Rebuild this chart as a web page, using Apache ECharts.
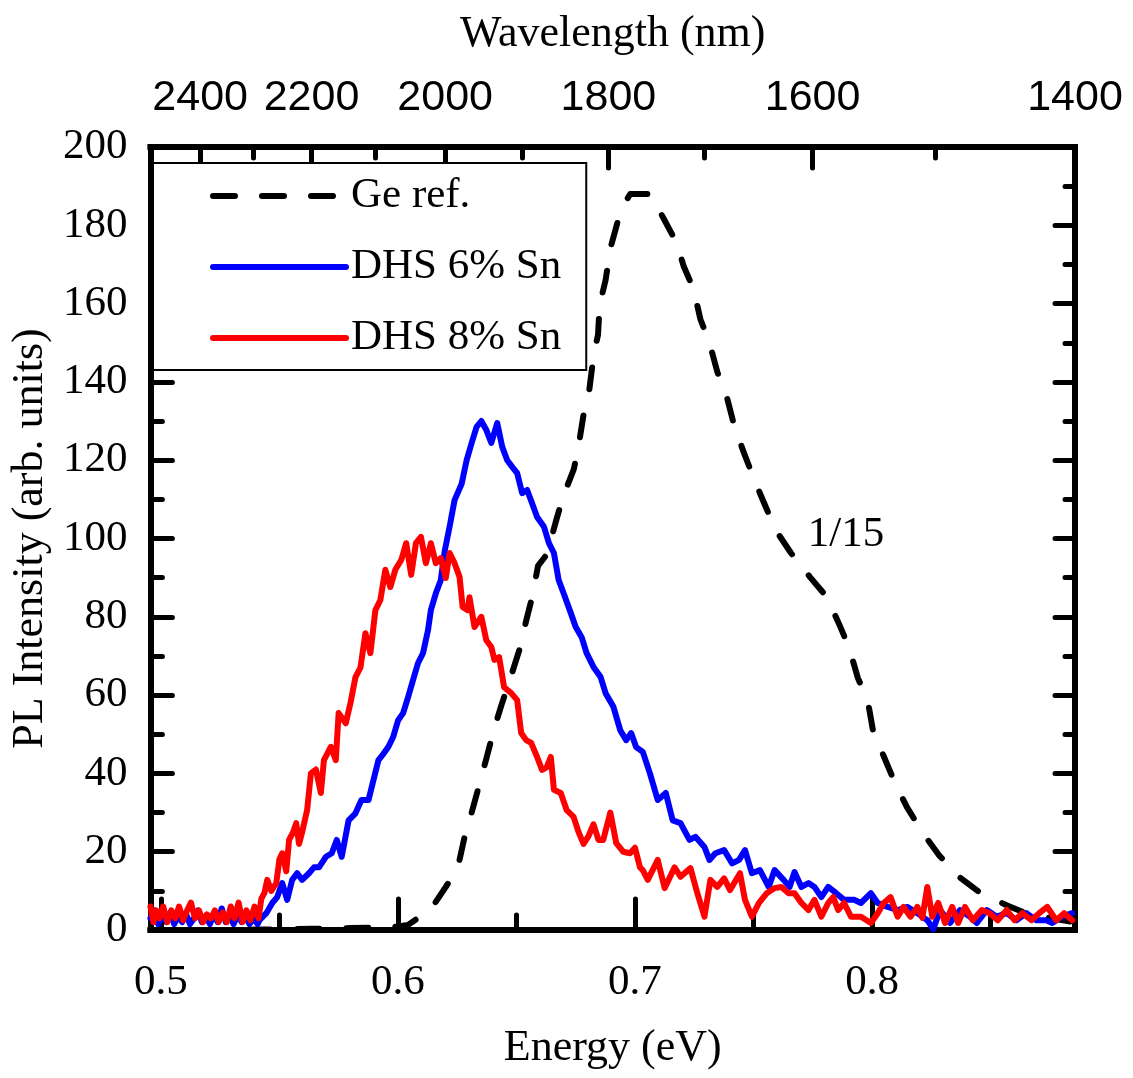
<!DOCTYPE html>
<html>
<head>
<meta charset="utf-8">
<script src="https://cdn.jsdelivr.net/npm/echarts@6/dist/echarts.min.js"></script>
<style>
html,body{margin:0;padding:0;background:#fff;}
#chart{width:1133px;height:1078px;}
</style>
</head>
<body>
<div id="chart"></div>
<script>
// ---------- data ----------
const HC = 1239.84; // eV*nm
const xMin = 0.4956;
const xMax = 0.8856;
const yMin = 0, yMax = 200, yStep = 20;

const energyMajor = [0.5, 0.6, 0.7, 0.8];
const energyMinor = [0.55, 0.65, 0.75, 0.85];
const waveMajor = [2400, 2200, 2000, 1800, 1600, 1400];
const waveMinor = [2300, 2100, 1900, 1700, 1500];

const seriesNames = ['Ge ref.', 'DHS 6% Sn', 'DHS 8% Sn'];
const annotationText = '1/15';
const annotationAt = [0.789, 101];

const geRef = [
[0.4956,0],[0.52,0],[0.54,0.1],[0.5638,0.3],[0.58,0.5],[0.5918,0.6],[0.6,0.9],
[0.6043,1.3],[0.614,5.4],[0.6202,11],[0.6253,16],[0.6282,24],[0.6311,30],
[0.6345,37.5],[0.6374,44],[0.6407,51.6],[0.6437,57.5],[0.6478,65],[0.6512,71.5],
[0.6541,79],[0.6566,85],[0.6591,93],[0.6629,96],[0.6667,104.5],[0.6696,110.6],
[0.6742,117.7],[0.6763,124],[0.6784,132],[0.6807,137.8],[0.6826,147],[0.6844,152],
[0.6851,159.7],[0.6876,166],[0.6897,174.3],[0.6926,180.7],[0.6955,185.5],[0.698,188],
[0.7064,188],[0.7122,181.6],[0.7176,175.5],[0.7205,169.6],[0.7247,163.7],[0.7276,156],
[0.7314,150],[0.7348,142.4],[0.7388,136],[0.7419,128.7],[0.7457,122.3],[0.75,115.5],
[0.7545,109],[0.7595,102],[0.7658,96.3],[0.774,90],[0.781,85],[0.7862,78],[0.7904,72],
[0.794,64.4],[0.7982,58.5],[0.8005,50.6],[0.8047,44.7],[0.8097,37.5],[0.8147,31.4],
[0.8214,24.8],[0.8281,19.2],[0.8369,13.5],[0.8452,9.7],[0.8565,6.4],[0.8636,4.6],
[0.8728,3.3],[0.8854,2]
];

const dhs6 = [
[0.4956,3],[0.4973,5],[0.4989,1.5],[0.5006,4],[0.5023,2],[0.504,4.5],[0.5056,1.5],
[0.5073,3.5],[0.509,2],[0.5107,4],[0.5123,1.5],[0.514,3],[0.5157,5],[0.5173,2],
[0.519,3.5],[0.5207,1.5],[0.5224,4],[0.524,2],[0.5257,5.5],[0.5274,2],[0.5291,3.5],
[0.5307,1.5],[0.5324,4],[0.5341,2],[0.5357,3.5],[0.5374,1.5],[0.5391,3],[0.5408,1.5],
[0.5416,2.5],[0.5445,4.3],[0.547,6.9],[0.5491,8.4],[0.5512,12],[0.5533,7.7],
[0.5554,12.8],[0.5575,14.5],[0.5596,12.8],[0.5625,14.5],[0.5646,16],[0.5667,16],
[0.5696,18.7],[0.5721,19.6],[0.5742,23],[0.5763,18.7],[0.5792,28],[0.5821,29.8],
[0.5846,33.2],[0.5876,33.2],[0.5897,38.3],[0.5918,43.4],[0.5939,45],[0.596,46.8],
[0.598,49.3],[0.6001,53.6],[0.6022,55.4],[0.6043,59.5],[0.6064,63.9],[0.6085,68.2],
[0.6106,70.7],[0.6127,76.6],[0.6139,81.7],[0.616,86],[0.6181,89.4],[0.6198,97],
[0.6218,103],[0.6239,109.8],[0.6269,114],[0.629,120],[0.6311,124.4],[0.6332,128.5],
[0.6352,130],[0.6373,127.7],[0.6394,124.4],[0.6419,129.5],[0.644,123.4],[0.6461,120],
[0.6482,118.3],[0.6503,116.7],[0.6524,111.6],[0.6545,112.4],[0.6566,109],[0.6587,105.5],
[0.6616,103],[0.6637,98.8],[0.6658,96.3],[0.6678,89.4],[0.6699,86],[0.6729,81],
[0.675,77.4],[0.6775,74.8],[0.6796,70.7],[0.6825,67.2],[0.6855,64.6],[0.6876,60.5],
[0.6909,57],[0.6938,51],[0.6963,48.5],[0.6984,50.3],[0.7005,46.7],[0.7033,45.5],
[0.7063,40],[0.7096,33.2],[0.713,35],[0.7159,28],[0.7192,27.3],[0.723,23],[0.7255,23.8],
[0.7293,21.2],[0.7314,17.9],[0.7339,19.6],[0.7376,20.4],[0.741,17],[0.7439,17.9],
[0.7464,20.4],[0.7493,14.5],[0.7527,15.3],[0.7564,11],[0.7589,15.3],[0.7627,12.8],
[0.7652,11],[0.7673,14.8],[0.7702,11],[0.7732,12],[0.7757,11],[0.7786,8.4],[0.7815,11],
[0.7849,9.4],[0.7882,7.7],[0.7924,7.7],[0.7953,6.9],[0.7995,9.4],[0.8024,6.9],
[0.8066,5.9],[0.8108,5.1],[0.815,5.9],[0.8191,4.3],[0.8233,2.5],[0.8258,0.2],
[0.8287,5.1],[0.8329,1.8],[0.8371,5.1],[0.8413,3.4],[0.8442,1.8],[0.8484,5.1],
[0.8526,3.4],[0.8568,4.3],[0.8609,2.5],[0.8651,4.3],[0.8693,2.5],[0.8735,2.5],
[0.876,1.8],[0.8802,3.4],[0.8844,4.3]
];

const dhs8 = [
[0.4956,6],[0.4969,2],[0.4981,5],[0.4994,3],[0.501,6],[0.5027,2],[0.5044,5],[0.5061,3],
[0.5077,6],[0.5094,2.5],[0.5111,5],[0.5127,7],[0.5144,3],[0.5161,5],[0.5178,2],[0.5194,4],
[0.5211,3],[0.5228,5],[0.5244,2],[0.5261,4.5],[0.5278,2],[0.5295,6],[0.5311,3],[0.5328,7],
[0.5345,2],[0.5361,5],[0.5378,2.5],[0.5395,6],[0.5412,3],[0.5424,8],[0.5437,9.5],
[0.5449,12.8],[0.5466,10],[0.5487,12],[0.55,18],[0.5512,19.6],[0.5529,15],[0.5541,23],
[0.5558,25],[0.5571,27.3],[0.5583,22],[0.5596,25],[0.5617,30.6],[0.5633,40],[0.5654,41],
[0.5675,35],[0.5688,43.4],[0.5717,46.8],[0.5738,43.4],[0.575,55.4],[0.578,52.8],
[0.58,58],[0.5821,64.6],[0.5842,67],[0.5863,75.8],[0.5884,70.7],[0.5905,81.7],
[0.5926,84.3],[0.5947,92],[0.5968,87.6],[0.5989,92],[0.6014,94.5],[0.6035,98.8],
[0.6056,90.7],[0.6076,98.8],[0.6097,100.4],[0.6118,93.7],[0.6139,98.8],[0.616,93.7],
[0.6181,95],[0.6202,89.9],[0.6218,96.3],[0.6239,93.7],[0.626,90.2],[0.6273,82.5],
[0.6294,81.7],[0.6302,85],[0.6323,77.4],[0.6352,80],[0.6373,74],[0.6394,72.3],
[0.6407,69],[0.6427,69.7],[0.6448,62],[0.6478,60.5],[0.6503,58.7],[0.652,50.3],
[0.6541,48.5],[0.6562,47.8],[0.6587,44.2],[0.6608,40.9],[0.6628,41.6],[0.6645,44.2],
[0.6658,35.8],[0.6687,35],[0.6712,30.6],[0.6741,28.9],[0.6762,25],[0.6783,22],
[0.6804,24],[0.6825,27],[0.6846,23],[0.6866,23],[0.6896,30],[0.6921,22.2],[0.695,20],
[0.6979,19.6],[0.7,21],[0.7021,16],[0.7033,15.3],[0.7054,12.8],[0.7096,17.9],
[0.7125,10.7],[0.7167,16],[0.7192,13.6],[0.7234,15.8],[0.7263,9.4],[0.7293,3.4],
[0.7318,12.8],[0.7347,11],[0.7376,13.2],[0.7401,10.2],[0.7443,14.5],[0.7464,7.7],
[0.7493,3.4],[0.7523,6.9],[0.7556,9.4],[0.7589,10.7],[0.7618,11],[0.7648,9.4],
[0.7673,9.4],[0.7702,6.9],[0.7732,5.1],[0.7757,7.7],[0.7786,3.4],[0.7815,6.9],
[0.7836,8.4],[0.7857,5.1],[0.7882,6.9],[0.7911,3.4],[0.7953,3.4],[0.7995,1.8],
[0.8024,4.3],[0.8049,6.9],[0.8078,8.4],[0.8108,3.4],[0.8133,5.9],[0.8162,3.4],
[0.8191,5.9],[0.8212,3.1],[0.8233,11],[0.8254,3.4],[0.8279,6.9],[0.8308,1.8],
[0.8338,5.9],[0.8363,1.8],[0.8392,5.9],[0.8425,2.5],[0.8463,5.1],[0.8496,4.3],
[0.853,2.5],[0.8568,5.1],[0.8601,2.5],[0.8634,4.3],[0.8672,2.5],[0.8705,4.3],
[0.8739,5.9],[0.8777,2.5],[0.881,4.3],[0.8844,2.5]
];

// ---------- chart ----------
const SERIF = '"Liberation Serif", "Times New Roman", serif';
const SANS = '"Liberation Sans", Arial, sans-serif';
const chart = echarts.init(document.getElementById('chart'), null, {renderer: 'canvas'});

const tickStyle = {color: '#000', width: 5, cap: 'round'};
const axisLineStyle = {color: '#000', width: 6, cap: 'square'};
const LINE_W = 6;

const waveToE = w => HC / w;

const option = {
  backgroundColor: '#fff',
  animation: false,
  grid: {left: 143, right: 58, top: 147, bottom: 148, containLabel: false},
  legend: {
    orient: 'vertical',
    left: 153, top: 163,
    data: seriesNames,
    backgroundColor: '#fff',
    borderColor: '#000', borderWidth: 2, borderRadius: 0,
    padding: [8, 25, 7, 57],
    itemWidth: 133, itemHeight: 14, itemGap: 21,
    itemStyle: {opacity: 0},
    lineStyle: {width: LINE_W, cap: 'round'},
    textStyle: {fontFamily: SERIF, fontSize: 43, color: '#000', lineHeight: 50},
    selectedMode: false
  },
  xAxis: [
    { // bottom, major
      type: 'value', position: 'bottom', min: xMin, max: xMax,
      name: 'Energy (eV)', nameLocation: 'middle', nameGap: 96,
      nameTextStyle: {fontFamily: SERIF, fontSize: 44, color: '#000'},
      axisLine: {show: true, onZero: false, lineStyle: axisLineStyle},
      axisTick: {show: true, inside: true, length: 31, customValues: energyMajor, lineStyle: tickStyle},
      axisLabel: {show: true, margin: 31, customValues: energyMajor, fontFamily: SERIF, fontSize: 43, color: '#000',
                  formatter: v => v.toFixed(1)},
      splitLine: {show: false}
    },
    { // bottom, minor
      type: 'value', position: 'bottom', min: xMin, max: xMax,
      axisLine: {show: false, onZero: false},
      axisTick: {show: true, inside: true, length: 15, customValues: energyMinor, lineStyle: tickStyle},
      axisLabel: {show: false}, splitLine: {show: false}
    },
    { // top, wavelength major
      type: 'value', position: 'top', min: xMin, max: xMax,
      name: 'Wavelength (nm)', nameLocation: 'middle', nameGap: 91,
      nameTextStyle: {fontFamily: SERIF, fontSize: 44, color: '#000'},
      axisLine: {show: true, onZero: false, lineStyle: axisLineStyle},
      axisTick: {show: true, inside: true, length: 21, customValues: waveMajor.map(waveToE), lineStyle: tickStyle},
      axisLabel: {show: true, margin: 27, customValues: waveMajor.map(waveToE), fontFamily: SANS, fontSize: 43, color: '#000',
                  formatter: v => String(Math.round(HC / v))},
      splitLine: {show: false}
    },
    { // top, wavelength minor
      type: 'value', position: 'top', min: xMin, max: xMax,
      axisLine: {show: false, onZero: false},
      axisTick: {show: true, inside: true, length: 11, customValues: waveMinor.map(waveToE), lineStyle: tickStyle},
      axisLabel: {show: false}, splitLine: {show: false}
    }
  ],
  yAxis: [
    {
      type: 'value', position: 'left', min: yMin, max: yMax, interval: yStep,
      name: 'PL Intensity (arb. units)', nameLocation: 'middle', nameGap: 78,
      nameTextStyle: {fontFamily: SERIF, fontSize: 44, color: '#000'},
      axisLine: {show: true, onZero: false, lineStyle: axisLineStyle},
      axisTick: {show: true, inside: true, length: 22, lineStyle: tickStyle},
      minorTick: {show: true, splitNumber: 2, length: 12, lineStyle: tickStyle},
      axisLabel: {show: true, margin: 23, fontFamily: SERIF, fontSize: 43, color: '#000'},
      splitLine: {show: false}, minorSplitLine: {show: false}
    },
    {
      type: 'value', position: 'right', min: yMin, max: yMax, interval: yStep,
      axisLine: {show: true, onZero: false, lineStyle: axisLineStyle},
      axisTick: {show: true, inside: true, length: 20, lineStyle: tickStyle},
      minorTick: {show: true, splitNumber: 2, length: 10, lineStyle: tickStyle},
      axisLabel: {show: false},
      splitLine: {show: false}, minorSplitLine: {show: false}
    }
  ],
  series: [
    {
      name: seriesNames[0], type: 'line', data: geRef, xAxisIndex: 0, yAxisIndex: 0,
      showSymbol: false, symbol: 'none', smooth: false, clip: true,
      color: '#000',
      lineStyle: {color: '#000', width: LINE_W, type: [22, 27], cap: 'round', join: 'round'},
      z: 2
    },
    {
      name: seriesNames[1], type: 'line', data: dhs6, xAxisIndex: 0, yAxisIndex: 0,
      showSymbol: false, symbol: 'none', smooth: false, clip: true,
      color: '#0000ff',
      lineStyle: {color: '#0000ff', width: LINE_W, cap: 'round', join: 'round'},
      z: 3
    },
    {
      name: seriesNames[2], type: 'line', data: dhs8, xAxisIndex: 0, yAxisIndex: 0,
      showSymbol: false, symbol: 'none', smooth: false, clip: true,
      color: '#ff0000',
      lineStyle: {color: '#ff0000', width: LINE_W, cap: 'round', join: 'round'},
      z: 4
    }
  ]
};
chart.setOption(option);

const p = chart.convertToPixel({xAxisIndex: 0, yAxisIndex: 0}, annotationAt);
chart.setOption({
  graphic: [{
    type: 'text', x: p[0], y: p[1], z: 10,
    style: {text: annotationText, fontFamily: SERIF, fontSize: 43, fill: '#000', align: 'center', verticalAlign: 'middle'}
  }]
});
</script>
</body>
</html>
